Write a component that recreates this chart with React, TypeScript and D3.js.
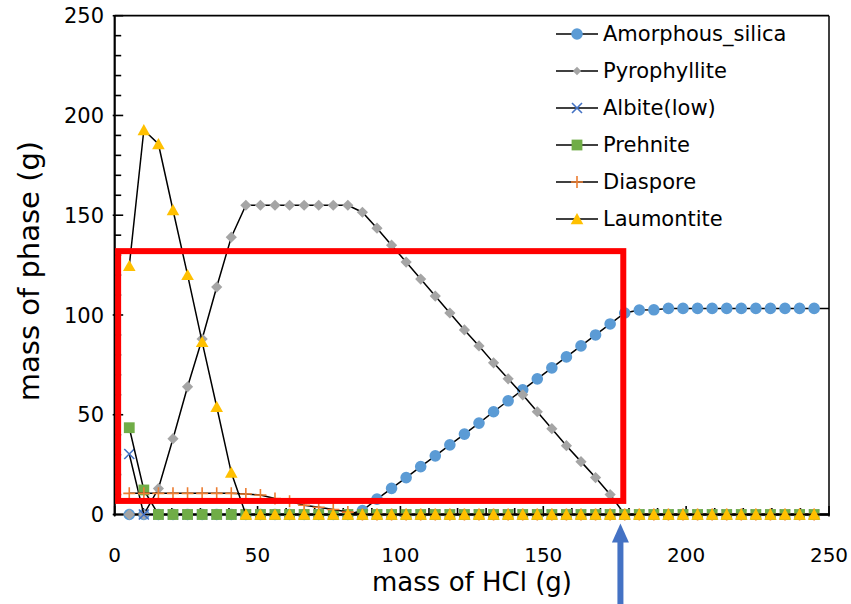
import React from "react";
import * as d3 from "d3";

// ---------- data ----------
const hcl = [
  5.1, 10.2, 15.3, 20.4, 25.5, 30.6, 35.7, 40.8, 45.9, 51.0, 56.1, 61.2, 66.3, 71.4, 76.5, 81.6,
  86.7, 91.8, 96.9, 102.0, 107.1, 112.2, 117.3, 122.4, 127.5, 132.6, 137.7, 142.8, 147.9, 153.0,
  158.1, 163.2, 168.3, 173.4, 178.5, 183.6, 188.7, 193.8, 198.9, 204.0, 209.1, 214.2, 219.3,
  224.4, 229.5, 234.6, 239.7, 244.8, 255.0,
];

const amorphousSilica = [
  0, 0, 0, 0, 0, 0, 0, 0, 0, 0, 0, 0, 0, 0, 0, 0,
  2, 7.7, 13.1, 18.5, 24, 29.4, 34.9, 40.3, 45.8, 51.5, 57, 62.5, 68, 73.5,
  79, 84.5, 90, 95.5, 101, 102.5, 102.6, 103.3, 103.3, 103.3, 103.3, 103.3, 103.3,
  103.3, 103.3, 103.3, 103.3, 103.3, 103.3,
];
const pyrophyllite = [
  0, 0, 13, 38, 64, 88, 114, 139, 155, 155, 155, 155, 155, 155, 155, 155,
  151.5, 143.5, 135, 126.5, 118, 109.5, 101, 92.5, 84.5, 76, 68, 60, 51.5, 43,
  34.5, 26.5, 18.5, 10, 0, 0, 0, 0, 0, 0, 0, 0, 0,
  0, 0, 0, 0, 0, 0,
];
const albiteLow = [
  30.3, 0, 0, 0, 0, 0, 0, 0, 0, 0, 0, 0, 0, 0, 0, 0,
  0, 0, 0, 0, 0, 0, 0, 0, 0, 0, 0, 0, 0, 0,
  0, 0, 0, 0, 0, 0, 0, 0, 0, 0, 0, 0, 0,
  0, 0, 0, 0, 0, 0,
];
const prehnite = [
  43.5, 12.3, 0, 0, 0, 0, 0, 0, 0, 0, 0, 0, 0, 0, 0, 0,
  0, 0, 0, 0, 0, 0, 0, 0, 0, 0, 0, 0, 0, 0,
  0, 0, 0, 0, 0, 0, 0, 0, 0, 0, 0, 0, 0,
  0, 0, 0, 0, 0, 0,
];
const diaspore = [
  10.6, 10.6, 10.6, 10.6, 10.6, 10.6, 10.6, 10.6, 10.3, 9.8, 8.0, 6.6, 4.6, 3.6, 2.5, 1.2,
  0, 0, 0, 0, 0, 0, 0, 0, 0, 0, 0, 0, 0, 0,
  0, 0, 0, 0, 0, 0, 0, 0, 0, 0, 0, 0, 0,
  0, 0, 0, 0, 0, 0,
];
const laumontite = [
  124.6, 192.7, 185.7, 152.6, 120.1, 86.5, 54, 21, 0, 0, 0, 0, 0, 0, 0, 0,
  0, 0, 0, 0, 0, 0, 0, 0, 0, 0, 0, 0, 0, 0,
  0, 0, 0, 0, 0, 0, 0, 0, 0, 0, 0, 0, 0,
  0, 0, 0, 0, 0, 0,
];

const seriesNames = ["Amorphous_silica", "Pyrophyllite", "Albite(low)", "Prehnite", "Diaspore", "Laumontite"];
const seriesValues = [amorphousSilica, pyrophyllite, albiteLow, prehnite, diaspore, laumontite];
const seriesShapes = ["circle", "diamond", "x", "square", "plus", "triangle"];
const seriesColors = ["#5B9BD5", "#A5A5A5", "#4472C4", "#70AD47", "#ED7D31", "#FFC000"];

const xTicks = [0, 50, 100, 150, 200, 250];
const yTicks = [0, 50, 100, 150, 200, 250];
const minorStep = 10;

const xTitle = "mass of HCl (g)";
const yTitle = "mass of phase (g)";

// annotation (data coordinates)
const highlightBox = { x0: 1.2, x1: 178, y0: 6.8, y1: 132 };
const arrowX = 177;

// ---------- layout ----------
const W = 851;
const H = 604;
const FONT = "DejaVu Sans";

function markerPath(shape: string, legend = false): string {
  switch (shape) {
    case "circle":
      return d3.symbol(d3.symbolCircle, Math.PI * 5.8 * 5.8)() as string;
    case "diamond": {
      const h = legend ? 4.2 : 5.6;
      return `M0,${-h}L${h},0L0,${h}L${-h},0Z`;
    }
    case "square": {
      const a = 5.4;
      return `M${-a},${-a}h${2 * a}v${2 * a}h${-2 * a}Z`;
    }
    case "triangle":
      return "M0,-6L6.3,5.2L-6.3,5.2Z";
    case "x":
      return "M-5,-5L5,5M5,-5L-5,5";
    case "plus":
      return "M-6,0H6M0,-6V6";
  }
  return "";
}

function Marker({ shape, color, legend = false }: { shape: string; color: string; legend?: boolean }) {
  const d = markerPath(shape, legend);
  if (shape === "x" || shape === "plus") {
    return <path d={d} fill="none" stroke={color} strokeWidth={1.6} />;
  }
  return <path d={d} fill={color} stroke="none" />;
}

export default function App() {
  const x = d3.scaleLinear().domain([0, 250]).range([114.7, 829]);
  const y = d3.scaleLinear().domain([0, 250]).range([514.5, 15.7]);
  const [x0, x1] = x.range();
  const [y0, y1] = y.range();

  const line = d3
    .line<number>()
    .x((_, i) => x(hcl[i]))
    .y((v) => y(v));

  const minor = d3.range(0, 250 + 0.001, minorStep);

  return (
    <svg
      width={W}
      height={H}
      viewBox={`0 0 ${W} ${H}`}
      style={{ position: "absolute", left: 0, top: 0, background: "#fff" }}
      fontFamily={FONT}
    >
      <defs>
        <clipPath id="plotClip">
          <rect x={x0} y={0} width={x1 - x0} height={H} />
        </clipPath>
      </defs>
      <rect x={0} y={0} width={W} height={H} fill="#fff" />

      {/* plot frame top/right */}
      <line x1={x0} x2={x1} y1={y1} y2={y1} stroke="#000" strokeWidth={1.8} />
      <line x1={x1} x2={x1} y1={y1} y2={y0} stroke="#000" strokeWidth={1.5} />

      {/* minor and major ticks */}
      {minor.map((v) => {
        const major = v % 50 === 0;
        return (
          <g key={"t" + v}>
            <line x1={major ? x0 - 2 : x0} x2={x0 + (major ? 8.5 : 6.5)} y1={y(v)} y2={y(v)} stroke="#000" strokeWidth={1.6} />
            <line x1={x(v)} x2={x(v)} y1={major ? y0 + 2 : y0} y2={y0 - (major ? 8.5 : 6.5)} stroke="#000" strokeWidth={1.6} />
          </g>
        );
      })}

      {/* axes */}
      <line x1={x0} x2={x0} y1={y1} y2={y0 + 1} stroke="#000" strokeWidth={2.2} />
      <line x1={x0 - 1} x2={x1 + 0.75} y1={y0} y2={y0} stroke="#000" strokeWidth={2.2} />

      {/* tick labels */}
      {xTicks.map((v) => (
        <text key={"xl" + v} x={x(v)} y={562} textAnchor="middle" fontSize={20} fill="#000">
          {v}
        </text>
      ))}
      {yTicks.map((v) => (
        <text key={"yl" + v} x={104} y={y(v)} dy="0.36em" textAnchor="end" fontSize={21} fill="#000">
          {v}
        </text>
      ))}

      {/* series */}
      {seriesValues.map((vals, si) => (
        <g key={"s" + si}>
          <path d={line(vals) as string} fill="none" stroke="#000" strokeWidth={1.5} clipPath="url(#plotClip)" />
          {vals.map((v, i) =>
            hcl[i] <= 250 ? (
              <g key={i} transform={`translate(${x(hcl[i])},${y(v)})`}>
                <Marker shape={seriesShapes[si]} color={seriesColors[si]} />
              </g>
            ) : null
          )}
        </g>
      ))}

      {/* legend */}
      {seriesNames.map((name, i) => {
        const ry = 34 + i * 37;
        return (
          <g key={"lg" + i}>
            <line x1={556} x2={598} y1={ry} y2={ry} stroke="#000" strokeWidth={1.5} />
            <g transform={`translate(577,${ry})`}>
              <Marker shape={seriesShapes[i]} color={seriesColors[i]} legend />
            </g>
            <text x={603} y={ry + 6.5} fontSize={21} fill="#000">
              {name}
            </text>
          </g>
        );
      })}

      {/* axis titles */}
      <text x={472} y={591} textAnchor="middle" fontSize={26} fill="#000">
        {xTitle}
      </text>
      <text transform={`translate(39,271) rotate(-90)`} textAnchor="middle" fontSize={29} fill="#000">
        {yTitle}
      </text>

      {/* highlight box */}
      <rect
        x={x(highlightBox.x0)}
        y={y(highlightBox.y1)}
        width={x(highlightBox.x1) - x(highlightBox.x0)}
        height={y(highlightBox.y0) - y(highlightBox.y1)}
        fill="none"
        stroke="#FF0000"
        strokeWidth={6}
      />

      {/* arrow */}
      <rect x={x(arrowX) - 3} y={541} width={6} height={H - 541} fill="#4472C4" />
      <path d={`M${x(arrowX) - 8.5},542.5L${x(arrowX) + 8.5},542.5L${x(arrowX)},523.5Z`} fill="#4472C4" />
    </svg>
  );
}
